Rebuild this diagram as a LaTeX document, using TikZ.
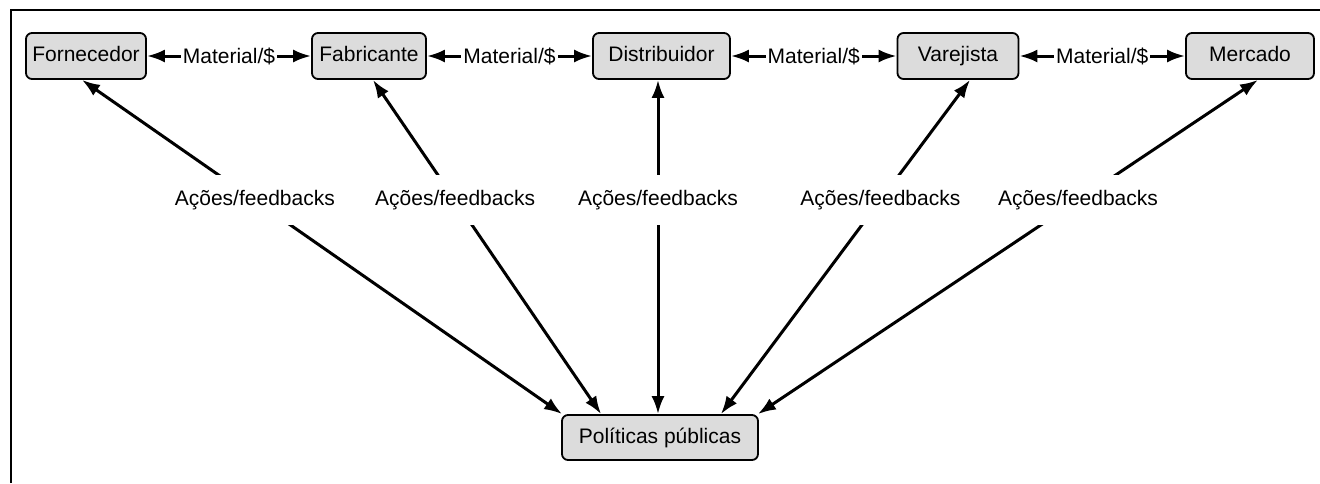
\documentclass[tikz,border=0pt]{standalone}
\usepackage{fontspec}
\setmainfont{Liberation Sans}
\usetikzlibrary{arrows.meta}
\definecolor{boxgray}{HTML}{DCDCDC}
\begin{document}
\begin{tikzpicture}[x=1pt,y=-1pt,
  txt/.style={font=\fontsize{21}{24}\selectfont},
  box/.style={txt, draw=black, line width=1.8pt, fill=boxgray, rounded corners=6pt,
    minimum height=46pt, inner sep=0pt, text height=15pt, text depth=4pt},
  link/.style={line width=3pt, {Latex[length=18pt,width=13pt]}-{Latex[length=18pt,width=13pt]}},
  mlbl/.style={txt, fill=white, inner xsep=2pt, inner ysep=1pt},
  albl/.style={txt, fill=white, inner xsep=3pt, minimum height=50pt, pos=0.64},
  frame/.style={line width=2.5pt}]
\useasboundingbox (0,0) rectangle (1320,483);
\coordinate (fa) at (11,483);
\coordinate (fb) at (11,10);
\coordinate (fc) at (1320,10);
\draw[frame] (fa) -- (fb) -- (fc);

\node[box, minimum width=120pt] (forn) at (86,56) {Fornecedor};
\node[box, minimum width=114pt] (fab) at (369,56) {Fabricante};
\node[box, minimum width=137pt] (dist) at (661.5,56) {Distribuidor};
\node[box, minimum width=121pt] (var) at (958,56) {Varejista};
\node[box, minimum width=128pt] (merc) at (1250,56) {Mercado};
\node[box, minimum width=196pt, minimum height=45pt] (pol) at (660,437.5) {Políticas públicas};

\draw[link] (forn.east) -- node[mlbl] {Material/\$} (fab.west);
\draw[link] (fab.east) -- node[mlbl] {Material/\$} (dist.west);
\draw[link] (dist.east) -- node[mlbl] {Material/\$} (var.west);
\draw[link] (var.east) -- node[mlbl] {Material/\$} (merc.west);

\draw[link] ([xshift=1pt]pol.north west) -- node[albl] {Ações/feedbacks} ([xshift=-4pt]forn.south);
\draw[link] ([xshift=40pt]pol.north west) -- node[albl] {Ações/feedbacks} ([xshift=4pt]fab.south);
\draw[link] ([xshift=-2pt]pol.north) -- node[albl] {Ações/feedbacks} ([xshift=-3.5pt]dist.south);
\draw[link] ([xshift=-38pt]pol.north east) -- node[albl] {Ações/feedbacks} ([xshift=12pt]var.south);
\draw[link] ([xshift=-1pt]pol.north east) -- node[albl] {Ações/feedbacks} ([xshift=8pt]merc.south);
\end{tikzpicture}
\end{document}
